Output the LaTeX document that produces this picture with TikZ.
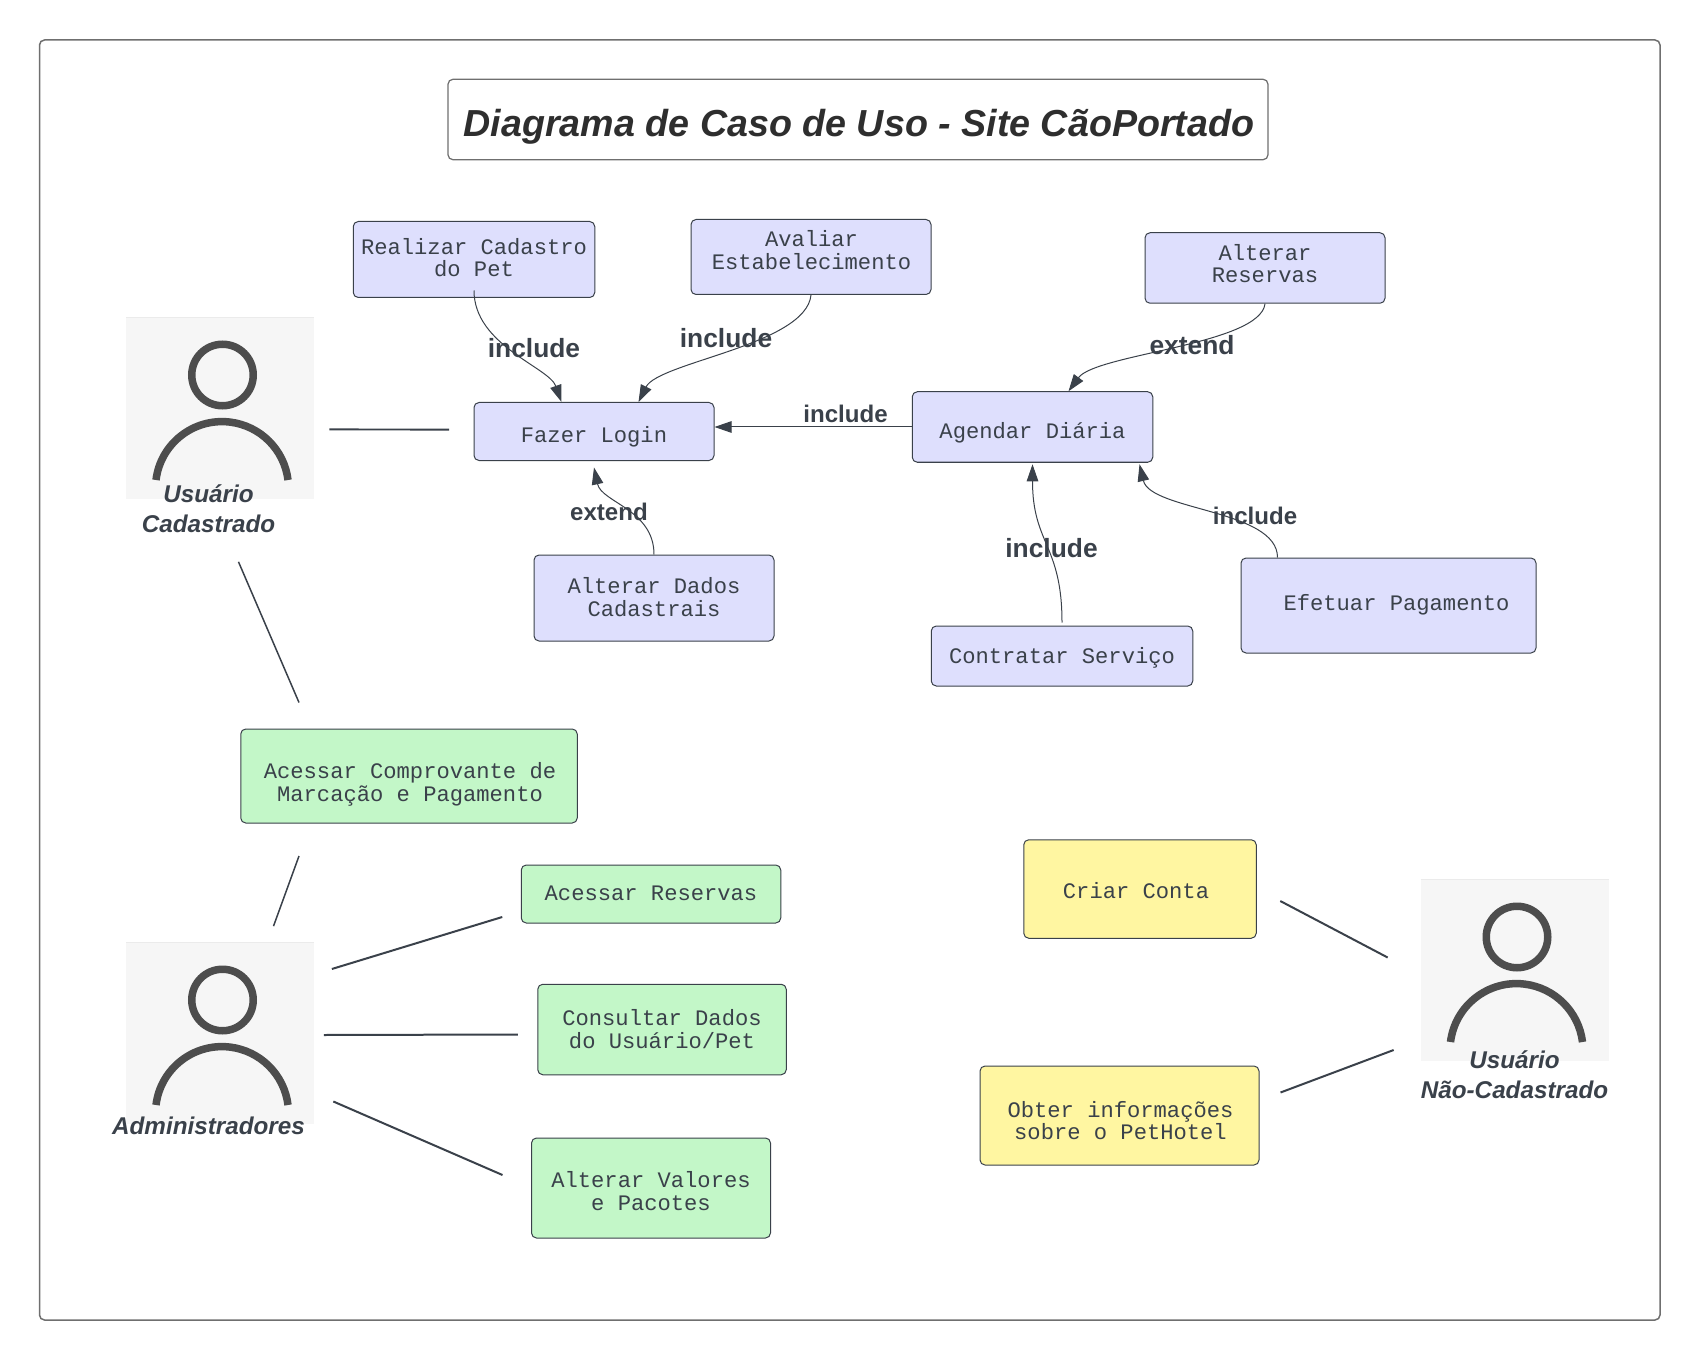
\documentclass[tikz,border=0pt]{standalone}
\usepackage{fontspec}
\setmainfont{Liberation Sans}
\setmonofont{Liberation Mono}
\usetikzlibrary{arrows, arrows.meta}
\definecolor{inkdark}{HTML}{3A414A}
\definecolor{titledark}{HTML}{2E2E2E}
\definecolor{framegray}{HTML}{6F6F6F}
\definecolor{boxblue}{HTML}{DEDFFD}
\definecolor{boxgreen}{HTML}{C3F7C8}
\definecolor{boxyellow}{HTML}{FFF6A1}
\definecolor{photogray}{HTML}{F6F6F6}
\definecolor{figgray}{HTML}{4D4D4D}
% text centred on the node, moved by (2*dx, dy)
\newcommand{\casetext}[3]{\raisebox{\dimexpr#2-.17cm\relax}[0pt][0pt]{\makebox[0pt]{\hspace*{#1}\begin{tabular}[c]{@{}c@{}}#3\end{tabular}}}}
\tikzset{
  casebox/.style={rectangle, draw=inkdark, line width=.02cm, rounded corners=.1cm, inner sep=0pt, text=inkdark, font=\ttfamily\fontsize{12.6}{12.6}\selectfont},
  linkarrow/.style={draw=inkdark, line width=.02cm, -{Triangle[length=3.4mm, width=2.3mm]}},
  linkplain/.style={draw=inkdark, line width=.04cm},
  linktext/.style={inner sep=0pt, text=inkdark, font=\bfseries\fontsize{13.7}{16}\selectfont},
  linktextbig/.style={inner sep=0pt, text=inkdark, font=\bfseries\fontsize{15}{18}\selectfont},
  actorbox/.style={rectangle, fill=photogray, inner sep=0pt, minimum width=3.76cm, minimum height=3.64cm},
  actortext/.style={inner sep=0pt, align=center, text=inkdark, font=\bfseries\itshape\fontsize{13.8}{17}\selectfont},
  actorfig/.pic={
    \draw[black!8, line width=.03cm] (-1.88,1.81) -- (1.88,1.81);
    \draw[figgray, line width=.15cm] (.05,.66) circle (.615);
    \draw[figgray, line width=.15cm] (-1.28,-1.44) arc[start angle=173, end angle=7, radius=1.33];
  }
}
\begin{document}
\begin{tikzpicture}
  \useasboundingbox (0,0) rectangle (34,-27.2);
  \draw[framegray, line width=.03cm, rounded corners=.1cm] (.79,-.8) rectangle (33.2,-26.4);

  \node[rectangle, draw=framegray, line width=.025cm, rounded corners=.1cm, inner sep=0pt, minimum width=16.4cm, minimum height=1.61cm, text=titledark, font=\bfseries\itshape\fontsize{21.42}{26}\selectfont] (title) at (17.16,-2.39) {\casetext{.04cm}{-.17cm}{Diagrama de Caso de Uso - Site CãoPortado}};

  % actors
  \node[actorbox] (usuario) at (4.4,-8.16) {};
  \node[actorbox] (admin) at (4.4,-20.66) {};
  \node[actorbox] (naoCad) at (30.29,-19.4) {};
  \pic at (usuario) {actorfig};
  \pic at (admin) {actorfig};
  \pic at (naoCad) {actorfig};
  \node[actortext] (usuarioText) at (4.17,-10.18) {Usuário\\Cadastrado};
  \node[actortext] (adminText) at (4.17,-22.52) {Administradores};
  \node[actortext] (naoCadText) at (30.29,-21.5) {Usuário\\Não-Cadastrado};

  % logged-in user
  \node[casebox, fill=boxblue, minimum width=4.83cm, minimum height=1.52cm] (realizar) at (9.48,-5.19) {\casetext{0cm}{.04cm}{Realizar Cadastro\\do Pet}};
  \node[casebox, fill=boxblue, minimum width=4.8cm, minimum height=1.5cm] (avaliar) at (16.22,-5.14) {\casetext{.02cm}{.14cm}{Avaliar\\Estabelecimento}};
  \node[casebox, fill=boxblue, minimum width=4.8cm, minimum height=1.41cm] (reservas) at (25.3,-5.36) {\casetext{0cm}{.09cm}{Alterar\\Reservas}};
  \node[casebox, fill=boxblue, minimum width=4.8cm, minimum height=1.16cm] (login) at (11.88,-8.63) {\casetext{0cm}{-.07cm}{Fazer Login}};
  \node[casebox, fill=boxblue, minimum width=4.81cm, minimum height=1.41cm] (agendar) at (20.65,-8.54) {\casetext{0cm}{-.08cm}{Agendar Diária}};
  \node[casebox, fill=boxblue, minimum width=4.8cm, minimum height=1.72cm] (dados) at (13.08,-11.96) {\casetext{0cm}{.02cm}{Alterar Dados\\Cadastrais}};
  \node[casebox, fill=boxblue, minimum width=5.23cm, minimum height=1.2cm] (contratar) at (21.24,-13.12) {\casetext{0cm}{0cm}{Contratar Serviço}};
  \node[casebox, fill=boxblue, minimum width=5.9cm, minimum height=1.9cm] (efetuar) at (27.77,-12.11) {\casetext{.32cm}{.05cm}{Efetuar Pagamento}};

  % administrators
  \node[casebox, fill=boxgreen, minimum width=6.73cm, minimum height=1.88cm] (comprovante) at (8.18,-15.52) {\casetext{.04cm}{-.12cm}{Acessar Comprovante de\\Marcação e Pagamento}};
  \node[casebox, fill=boxgreen, minimum width=5.19cm, minimum height=1.16cm] (acessar) at (13.02,-17.88) {\casetext{0cm}{.02cm}{Acessar Reservas}};
  \node[casebox, fill=boxgreen, minimum width=4.97cm, minimum height=1.81cm] (consultar) at (13.24,-20.59) {\casetext{0cm}{.01cm}{Consultar Dados\\do Usuário/Pet}};
  \node[casebox, fill=boxgreen, minimum width=4.78cm, minimum height=2cm] (valores) at (13.02,-23.76) {\casetext{0cm}{-.06cm}{Alterar Valores\\e Pacotes}};

  % visitors
  \node[casebox, fill=boxyellow, minimum width=4.65cm, minimum height=1.97cm] (criar) at (22.8,-17.78) {\casetext{-.16cm}{-.04cm}{Criar Conta}};
  \node[casebox, fill=boxyellow, minimum width=5.58cm, minimum height=1.98cm] (obter) at (22.39,-22.31) {\casetext{.04cm}{-.1cm}{Obter informações\\sobre o PetHotel}};

  % include / extend
  \draw[linkarrow] ([yshift=.15cm]realizar.south) .. controls +(0,-1.1) and +(-.25,.7) .. ([xshift=-.65cm]login.north);
  \draw[linkarrow] (avaliar.south) .. controls +(-.1,-1) and +(.4,.8) .. ([xshift=.89cm]login.north);
  \draw[linkarrow] (reservas.south) .. controls +(-.1,-.82) and +(.55,.75) .. ([xshift=.72cm]agendar.north);
  \draw[linkarrow] (agendar.west) -- (login.east |- agendar.west);
  \draw[linkarrow] (dados.north) .. controls +(0,.9) and +(.15,-.7) .. ([yshift=-.13cm]login.south);
  \draw[linkarrow] ([yshift=.06cm]contratar.north) .. controls +(0,1.56) and +(0,-1.6) .. ([yshift=-.03cm]agendar.south);
  \draw[linkarrow] ([xshift=-2.22cm]efetuar.north) .. controls +(0,.96) and +(.22,-.93) .. ([xshift=2.14cm,yshift=-.03cm]agendar.south);

  \node[linktextbig] (inc1) at (10.68,-6.97) {include};
  \node[linktextbig] (inc2) at (14.52,-6.76) {include};
  \node[linktext] (inc3) at (16.91,-8.28) {include};
  \node[linktext] (ext1) at (12.18,-10.23) {extend};
  \node[linktextbig] (ext2) at (23.84,-6.9) {extend};
  \node[linktextbig] (inc4) at (21.03,-10.96) {include};
  \node[linktext] (inc5) at (25.1,-10.32) {include};

  % plain associations
  \draw[linkplain] ([shift={(.3,-.43)}]usuario.east) -- ([shift={(-.49,.04)}]login.west);
  \draw[linkplain, line width=.03cm] ([shift={(.37,-1.25)}]usuario.south) -- ([shift={(-2.2,.52)}]comprovante.north);
  \draw[linkplain, line width=.03cm] ([shift={(-2.2,-.65)}]comprovante.south) -- ([shift={(1.07,.31)}]admin.north);
  \draw[linkplain] ([shift={(.35,1.28)}]admin.east) -- ([shift={(-.37,-.46)}]acessar.west);
  \draw[linkplain] ([shift={(.19,-.04)}]admin.east) -- ([shift={(-.39,-.1)}]consultar.west);
  \draw[linkplain] ([shift={(.38,-1.37)}]admin.east) -- ([shift={(-.57,.26)}]valores.west);
  \draw[linkplain] ([shift={(.47,-.24)}]criar.east) -- ([shift={(-.65,.25)}]naoCad.west);
  \draw[linkplain] ([shift={(.42,.46)}]obter.east) -- ([shift={(-.53,-1.6)}]naoCad.west);
\end{tikzpicture}
\end{document}
